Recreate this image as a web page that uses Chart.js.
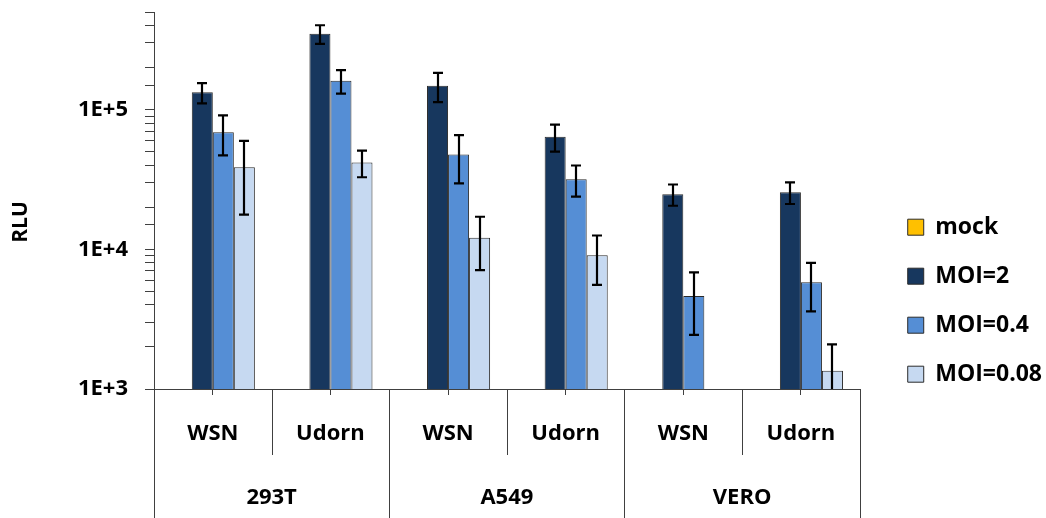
<!DOCTYPE html>
<html>
<head>
<meta charset="utf-8">
<script src="https://cdn.jsdelivr.net/npm/chart.js@4.4.1/dist/chart.umd.min.js"></script>
<style>
    body { margin: 0; background: #fff; }
    #wrap { width: 1046px; height: 518px; position: relative; }
</style>
</head>
<body>
<div id="wrap"><canvas id="rluChart"></canvas></div>
<script>
// Data
const categories = ['WSN', 'Udorn', 'WSN', 'Udorn', 'WSN', 'Udorn'];
const cellLines = ['293T', 'A549', 'VERO'];
const seriesNames = ['mock', 'MOI=2', 'MOI=0.4', 'MOI=0.08'];

const mock = [null, null, null, null, null, null];
const moi2 = [133000, 349000, 148000, 64000, 24800, 25600];
const moi2Err = [22000, 53000, 35000, 14000, 4300, 4500];
const moi04 = [69000, 161000, 47700, 31800, 4640, 5800];
const moi04Err = [22000, 31000, 18000, 8000, 2200, 2200];
const moi008 = [38700, 41800, 12100, 9060, null, 1350];
const moi008Err = [21000, 9000, 5000, 3500, null, 740];

const yTickValues = [1000, 10000, 100000];
const yTickLabels = ['1E+3', '1E+4', '1E+5'];
const yTitle = 'RLU';

const colors = ['#FFC000', '#17375E', '#558ED5', '#C6D9F1'];
const axisColor = '#404040';
const fontFamily = "'Open Sans', sans-serif";

Chart.defaults.font.family = fontFamily;
Chart.defaults.color = '#000';

// Error bars, drawn on top of the bars
const errorBars = {
    id: 'errorBars',
    afterDatasetsDraw(chart) {
        const { ctx, chartArea, scales: { y } } = chart;
        ctx.save();
        ctx.beginPath();
        ctx.rect(chartArea.left, chartArea.top, chartArea.width, chartArea.height);
        ctx.clip();
        ctx.strokeStyle = '#000';
        ctx.lineWidth = 2.2;
        chart.data.datasets.forEach(function(ds, d) {
            if (!ds.errors) return;
            chart.getDatasetMeta(d).data.forEach(function(bar, i) {
                const v = ds.data[i];
                const e = ds.errors[i];
                if (v == null || e == null) return;
                const top = y.getPixelForValue(v + e);
                const bottom = v - e > 0 ? y.getPixelForValue(v - e) : chartArea.bottom + 20;
                const x = Math.round(bar.x);
                ctx.beginPath();
                ctx.moveTo(x, top);
                ctx.lineTo(x, bottom);
                ctx.moveTo(x - 5, top);
                ctx.lineTo(x + 5, top);
                ctx.moveTo(x - 5, bottom);
                ctx.lineTo(x + 5, bottom);
                ctx.stroke();
            });
        });
        ctx.restore();
    }
};

// Two-level category axis (virus / cell line) with divider lines, plus the y title
const multiLevelAxis = {
    id: 'multiLevelAxis',
    afterDraw(chart) {
        const { ctx, chartArea, scales: { x } } = chart;
        const slot = (x.right - x.left) / categories.length;
        const base = chartArea.bottom;
        ctx.save();
        ctx.strokeStyle = axisColor;
        ctx.lineWidth = 1;
        for (let k = 0; k <= categories.length; k++) {
            const px = Math.round(x.left + k * slot) + 0.5;
            ctx.beginPath();
            ctx.moveTo(px, base);
            ctx.lineTo(px, k % 2 === 0 ? chart.height : base + 66);
            ctx.stroke();
        }
        ctx.fillStyle = '#000';
        ctx.font = 'bold 22px ' + fontFamily;
        ctx.textAlign = 'center';
        ctx.textBaseline = 'middle';
        categories.forEach(function(label, i) {
            ctx.fillText(label, x.getPixelForValue(i), base + 45);
        });
        cellLines.forEach(function(label, g) {
            const cx = (x.getPixelForValue(2 * g) + x.getPixelForValue(2 * g + 1)) / 2;
            ctx.fillText(label, cx, base + 109);
        });

        // Y axis title sits a little below the middle, as in the original
        ctx.font = 'bold 21px ' + fontFamily;
        ctx.translate(21, 222);
        ctx.rotate(-Math.PI / 2);
        ctx.fillText(yTitle, 0, 0);
        ctx.restore();
    }
};

const seriesData = [mock, moi2, moi04, moi008];
const seriesErr = [null, moi2Err, moi04Err, moi008Err];

const datasets = seriesNames.map(function(name, i) {
    return {
        label: name,
        data: seriesData[i],
        errors: seriesErr[i],
        backgroundColor: colors[i],
        borderColor: '#2a2a2a',
        borderWidth: 1,
        categoryPercentage: 0.715,
        barPercentage: 1.0
    };
});

function noPadding(scale) {
    scale.paddingTop = 0;
    scale.paddingBottom = 0;
}

new Chart(document.getElementById('rluChart'), {
    type: 'bar',
    data: { labels: categories, datasets: datasets },
    plugins: [errorBars, multiLevelAxis],
    options: {
        responsive: true,
        maintainAspectRatio: false,
        animation: false,
        layout: { padding: { top: 12, right: -6, bottom: 0, left: 0 } },
        plugins: {
            legend: {
                position: 'right',
                title: { display: true, text: '', padding: { top: 57, bottom: 0 } },
                labels: {
                    boxWidth: 16,
                    boxHeight: 16,
                    padding: 26,
                    color: '#000',
                    font: { size: 23, weight: 'bold' }
                }
            },
            tooltip: { enabled: false }
        },
        scales: {
            x: {
                grid: { display: true, offset: false, drawOnChartArea: false, tickLength: 6, color: axisColor },
                border: { color: axisColor },
                ticks: { display: false },
                afterFit: function(scale) { scale.height = 129; }
            },
            y: {
                type: 'logarithmic',
                min: 1000,
                max: 500000,
                grid: { drawOnChartArea: false, tickLength: 9, color: axisColor },
                border: { color: axisColor },
                ticks: {
                    autoSkip: false,
                    padding: 17,
                    font: { size: 22, weight: 'bold' },
                    callback: function(value) {
                        const idx = yTickValues.indexOf(value);
                        return idx >= 0 ? yTickLabels[idx] : '';
                    }
                },
                afterFit: function(scale) {
                    scale.width = 154;
                    noPadding(scale);
                }
            },
            spacer: {
                type: 'linear',
                position: 'right',
                display: true,
                grid: { display: false },
                border: { display: false },
                ticks: { display: false },
                afterFit: function(scale) {
                    scale.width = 22;
                    noPadding(scale);
                }
            }
        }
    }
});
</script>
</body>
</html>
